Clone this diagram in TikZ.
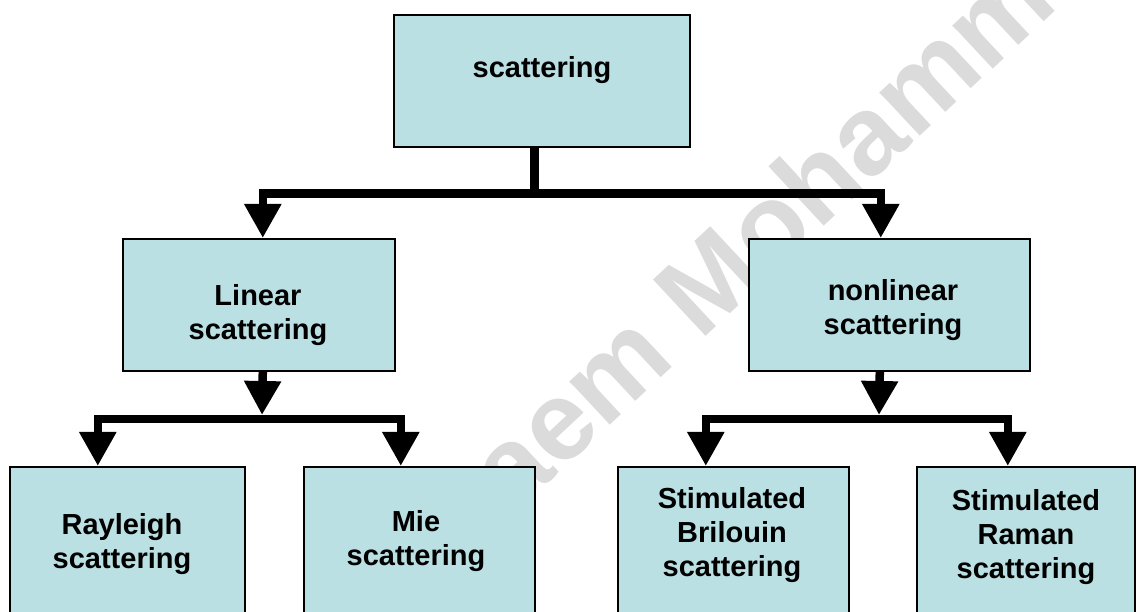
\documentclass[tikz,border=0pt]{standalone}
\usepackage{fontspec}
\setmainfont{Liberation Sans}
\usetikzlibrary{arrows.meta}
\definecolor{boxfill}{RGB}{186,224,227}
\definecolor{wmgray}{RGB}{219,219,219}
\begin{document}
\begin{tikzpicture}[x=1pt,y=-1pt,
 box/.style={draw=black, line width=1.6pt, fill=boxfill, inner sep=0pt, anchor=north west},
 lbl/.style={font=\bfseries\fontsize{29}{34}\selectfont, align=center, anchor=base, inner sep=0pt},
 conn/.style={line width=8.5pt, -{Triangle[width=35pt,length=34pt]}},
 dconn/.style={line width=8.5pt, {Triangle[width=35pt,length=34pt]}-{Triangle[width=35pt,length=34pt]}},
]
\useasboundingbox (0,0) rectangle (1136,612);
% watermark
\node[rotate=43, text=wmgray, font=\bfseries\fontsize{112}{112}\selectfont, anchor=base west, inner sep=0pt] (wmk) at (450,575) {Qaem Mohammed};
% boxes
\node[box, minimum width=296pt, minimum height=132pt] (top) at (393,14) {};
\node[box, minimum width=272pt, minimum height=132pt] (lin) at (122,238) {};
\node[box, minimum width=281pt, minimum height=132pt] (nl) at (748,238) {};
\node[box, minimum width=235pt, minimum height=200pt] (ray) at (9,466) {};
\node[box, minimum width=231pt, minimum height=200pt] (mie) at (303,466) {};
\node[box, minimum width=231pt, minimum height=200pt] (bri) at (617,466) {};
\node[box, minimum width=218pt, minimum height=200pt] (ram) at (916,466) {};
% labels (anchor = baseline of last line)
\node[lbl] (topT) at (542,78) {scattering};
\node[lbl] (linT) at (258,340) {Linear\\scattering};
\node[lbl] (nlT) at (893,335) {nonlinear\\scattering};
\node[lbl] (rayT) at (122,568) {Rayleigh\\scattering};
\node[lbl] (mieT) at (416,565) {Mie\\scattering};
\node[lbl] (briT) at (732,576) {Stimulated\\Brilouin\\scattering};
\node[lbl] (ramT) at (1026,578) {Stimulated\\Raman\\scattering};
% connectors
\draw[conn] ([xshift=-7.5pt]top.south) -- ++(0,46) -| ([xshift=4pt]lin.north);
\draw[conn] ([xshift=-7.5pt]top.south) -- ++(0,46) -| ([xshift=-8.5pt]nl.north);
\coordinate (lj) at (262,415);
\coordinate (nj) at (879,415);
\draw[conn] ([xshift=4pt]lin.south) -- (lj);
\draw[conn] ([xshift=-9.5pt]nl.south) -- (nj);
\draw[dconn] ([xshift=-29.5pt]ray.north) -- ++(0,-47) -| ([xshift=-18.5pt]mie.north);
\draw[dconn] ([xshift=-27.5pt]bri.north) -- ++(0,-47) -| ([xshift=-18pt]ram.north);
\end{tikzpicture}
\end{document}
